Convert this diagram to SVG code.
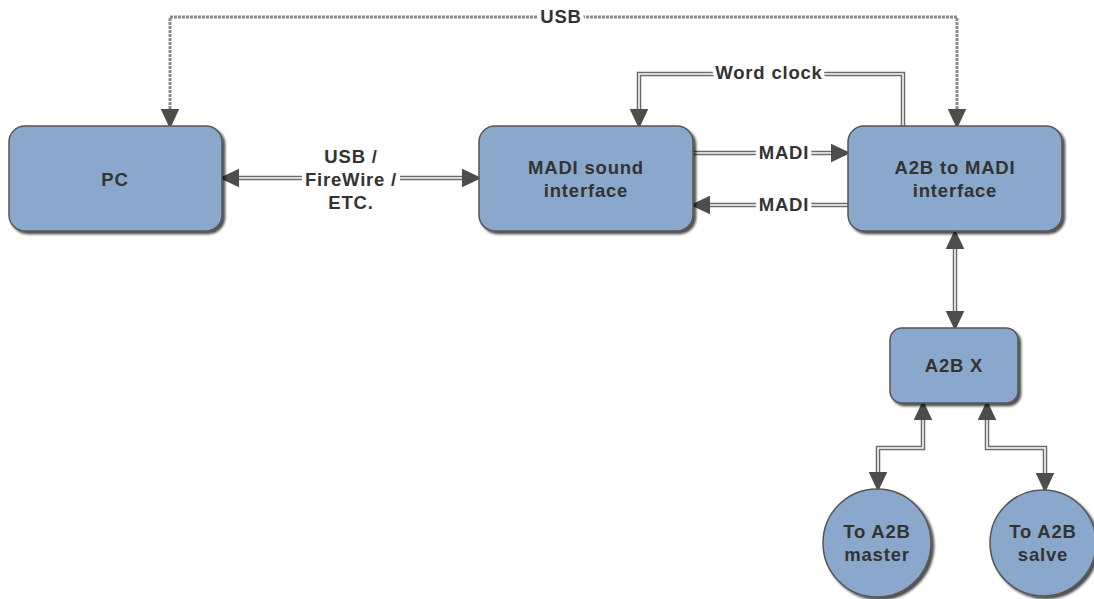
<svg xmlns="http://www.w3.org/2000/svg" width="1094" height="599" viewBox="0 0 1094 599">
<defs>
<style>
.node{fill:#8aa8cc;stroke:#555;stroke-width:1.5;filter:url(#sh)}
.t{font-family:"Liberation Sans",Arial,sans-serif;font-weight:bold;font-size:18.5px;letter-spacing:0.8px;fill:#333;text-anchor:middle}
.lbl{font-family:"Liberation Sans",Arial,sans-serif;font-weight:bold;font-size:18.5px;letter-spacing:0.8px;fill:#333;text-anchor:middle;stroke:#fff;stroke-width:8px;paint-order:stroke;stroke-linejoin:round}
.outer{fill:none;stroke:#6a6a6a;stroke-width:4.5}
.inner{fill:none;stroke:#fff;stroke-width:1.5}
.dot{fill:none;stroke:#8a8a8a;stroke-width:3;stroke-dasharray:3 1}
.gap{fill:#fff}
</style>
<filter id="sh" x="-10%" y="-10%" width="130%" height="130%">
<feDropShadow dx="2.5" dy="2.5" stdDeviation="1.2" flood-color="#000" flood-opacity="0.7"/>
</filter>
<marker id="a" markerUnits="userSpaceOnUse" markerWidth="22" markerHeight="22" viewBox="0 -9 19 18" refX="0" refY="0" orient="auto-start-reverse">
<path d="M0,-8 L17,0 L0,8 z" fill="#4d4d4d"/>
</marker>
</defs>
<g id="connectors">
<path class="dot" d="M170,109 V17 H957 V109" marker-start="url(#a)" marker-end="url(#a)"/>
<path class="outer" d="M239,178 H462" marker-start="url(#a)" marker-end="url(#a)"/>
<path class="inner" d="M239,178 H462"/>
<path class="outer" d="M693,153 H831" marker-end="url(#a)"/>
<path class="inner" d="M693,153 H831"/>
<path class="outer" d="M848,205 H710" marker-end="url(#a)"/>
<path class="inner" d="M848,205 H710"/>
<path class="outer" d="M903,126 V74 H639 V109" marker-end="url(#a)"/>
<path class="inner" d="M903,126 V74 H639 V109"/>
<path class="outer" d="M955,249 V311" marker-start="url(#a)" marker-end="url(#a)"/>
<path class="inner" d="M955,249 V311"/>
<path class="outer" d="M923,420 V448 H878 V472" marker-start="url(#a)" marker-end="url(#a)"/>
<path class="inner" d="M923,420 V448 H878 V472"/>
<path class="outer" d="M987,420 V448 H1045 V473" marker-start="url(#a)" marker-end="url(#a)"/>
<path class="inner" d="M987,420 V448 H1045 V473"/>
<rect class="gap" x="302" y="171" width="98" height="14"/>
<rect class="gap" x="714" y="67" width="110" height="14"/>
<text class="lbl" x="561" y="23">USB</text>
<text class="lbl" x="351" y="163">USB /</text>
<text class="lbl" x="351" y="186">FireWire /</text>
<text class="lbl" x="351" y="209">ETC.</text>
<text class="lbl" x="769" y="79">Word clock</text>
<text class="lbl" x="784" y="159">MADI</text>
<text class="lbl" x="784" y="211">MADI</text>
</g>
<g id="pc"><rect class="node" x="9" y="126" width="213" height="105" rx="16"/><text class="t" x="115" y="186">PC</text></g>
<g id="madi"><rect class="node" x="479" y="126" width="214" height="105" rx="16"/><text class="t" x="586" y="174">MADI sound</text><text class="t" x="586" y="197">interface</text></g>
<g id="a2bmadi"><rect class="node" x="848" y="126" width="214" height="105" rx="16"/><text class="t" x="955" y="174">A2B to MADI</text><text class="t" x="955" y="197">interface</text></g>
<g id="a2bx"><rect class="node" x="890" y="328" width="128" height="75" rx="12"/><text class="t" x="954" y="372">A2B X</text></g>
<g id="master"><circle class="node" cx="877" cy="543" r="54"/><text class="t" x="877" y="538">To A2B</text><text class="t" x="877" y="561">master</text></g>
<g id="salve"><circle class="node" cx="1043" cy="543" r="53"/><text class="t" x="1043" y="538">To A2B</text><text class="t" x="1043" y="561">salve</text></g>
</svg>
